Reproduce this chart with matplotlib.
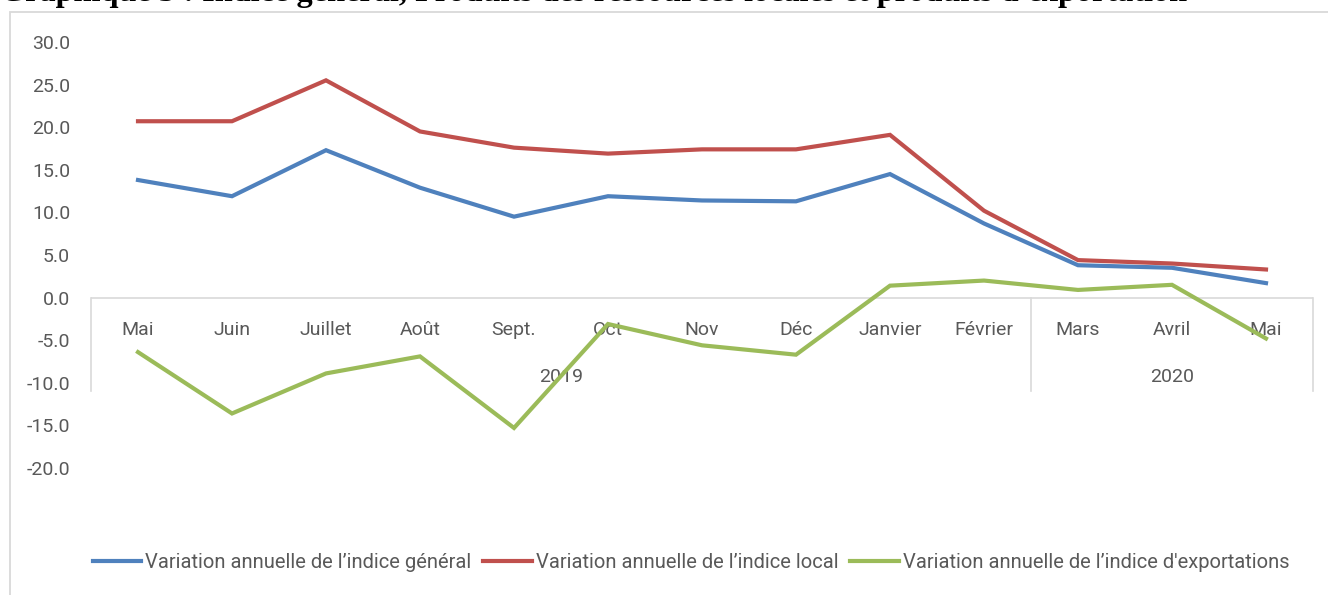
import matplotlib
matplotlib.use("Agg")
import matplotlib.pyplot as plt
from matplotlib.lines import Line2D
from matplotlib.patches import Rectangle

months = ["Mai", "Juin", "Juillet", "Août", "Sept.", "Oct", "Nov", "Déc",
          "Janvier", "Février", "Mars", "Avril", "Mai"]
years = ["2019", "2020"]
year_counts = [10, 3]

general = [13.8, 11.9, 17.3, 12.9, 9.5, 11.9, 11.4, 11.3, 14.5, 8.7, 3.8, 3.5, 1.7]
local = [20.7, 20.7, 25.5, 19.5, 17.6, 16.9, 17.4, 17.4, 19.1, 10.2, 4.4, 4.0, 3.3]
exports = [-6.4, -13.6, -8.9, -6.9, -15.3, -3.1, -5.6, -6.7, 1.4, 2.0, 0.9, 1.5, -4.8]

series_labels = ["Variation annuelle de l’indice général",
                 "Variation annuelle de l’indice local",
                 "Variation annuelle de l’indice d'exportations"]
colors = ["#4F81BD", "#C0504D", "#9BBB59"]

title = "Graphique 3 : Indice général, Produits des ressources locales et produits d'exportation"

W, H = 1328, 595
fig = plt.figure(figsize=(W / 100, H / 100), dpi=100)
fig.patch.set_facecolor("white")

sans = ["Roboto", "DejaVu Sans"]
txt_color = "#595959"

# chart frame
fig.patches.append(Rectangle((10 / W, -0.1), 1.2, (1 - 12 / H) + 0.1,
                             transform=fig.transFigure, fill=False,
                             edgecolor="#D9D9D9", lw=1.3))

# title (cropped at top, as in the reference)
t = fig.text(0.0, 1 - 8 / H, title, fontsize=20, fontweight="bold",
             family="Liberation Serif", va="bottom", ha="left")
fig.canvas.draw()
bb = t.get_window_extent()
t.set_fontsize(20 * 1188 / bb.width)

ax = fig.add_axes([91 / W, 1 - 468 / H, (1313 - 91) / W, (468 - 42) / H])
ax.set_xlim(-0.5, len(months) - 0.5)
ax.set_ylim(-20, 30)
for s in ax.spines.values():
    s.set_visible(False)
ax.set_xticks([])
yt = list(range(-20, 31, 5))
ax.set_yticks(yt)
ax.set_yticklabels([f"{v:.1f}" for v in yt])
ax.tick_params(axis="y", length=0, pad=15, labelsize=14, labelcolor=txt_color)
for lab in ax.get_yticklabels():
    lab.set_family(sans)

# category axis at zero
ax.axhline(0, color="#D9D9D9", lw=1.2, zorder=1)
sep_bottom = -11.0
edges = [-0.5]
for c in year_counts:
    edges.append(edges[-1] + c)
for e in edges:
    ax.plot([e, e], [0, sep_bottom], color="#D9D9D9", lw=1.2, clip_on=False, zorder=1)

for i, m in enumerate(months):
    ax.text(i, -3.8, m, ha="center", va="center", fontsize=14, color=txt_color,
            family=sans, zorder=2)
for j, y in enumerate(years):
    ax.text((edges[j] + edges[j + 1]) / 2, -9.3, y, ha="center", va="center",
            fontsize=14, color=txt_color, family=sans, zorder=2)

x = list(range(len(months)))
for vals, col in zip([general, local, exports], colors):
    ax.plot(x, vals, color=col, lw=3.0, solid_joinstyle="miter", zorder=3)

handles = [Line2D([0], [0], color=c, lw=3.0) for c in colors]
fig.legend(handles, series_labels, loc="center", bbox_to_anchor=(691 / W, 1 - 563 / H),
           ncol=3, frameon=False, handlelength=2.4, handletextpad=0.2,
           columnspacing=0.6, prop={"family": sans, "size": 14.5},
           labelcolor=txt_color)

fig.savefig("out.png", dpi=100)
